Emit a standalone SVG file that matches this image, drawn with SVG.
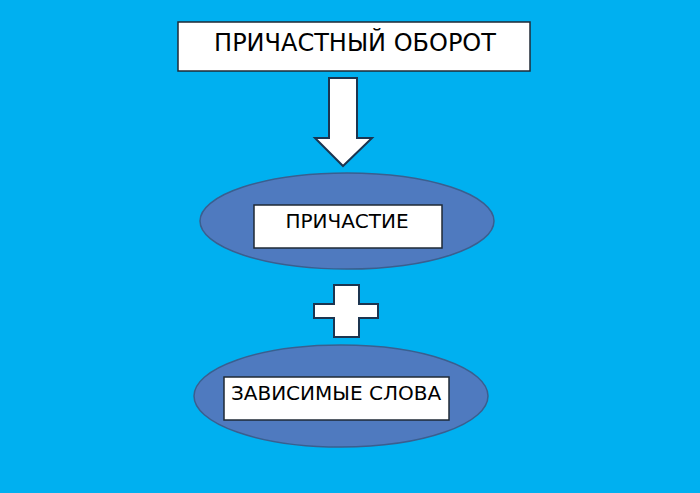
<svg xmlns="http://www.w3.org/2000/svg" width="700" height="493" viewBox="0 0 700 493">
<style>
.box{fill:#ffffff;stroke:#1f2a36;stroke-width:1.5}
.oval{fill:#4f7abf;stroke:#3a5f8f;stroke-width:1.5}
.shape{fill:#ffffff;stroke:#1c3550;stroke-width:2;stroke-linejoin:miter}
text{font-family:"DejaVu Sans","Liberation Sans",sans-serif;fill:#000;text-anchor:middle}
</style>
<rect x="0" y="0" width="700" height="493" fill="#00b0f0"/>
<g id="node-oborot">
<rect class="box" x="178" y="22" width="352" height="49"/>
<text x="355" y="51" font-size="24">ПРИЧАСТНЫЙ ОБОРОТ</text>
</g>
<g id="connectors">
<path class="shape" d="M329,78 H357 V138 H372 L343,166 L315,138 H329 Z"/>
<path class="shape" d="M334,285 H359 V304 H378 V318 H359 V337 H334 V318 H314 V304 H334 Z"/>
</g>
<g id="node-prichastie">
<ellipse class="oval" cx="347" cy="221" rx="147" ry="48"/>
<rect class="box" x="254" y="205" width="188" height="43"/>
<text x="347" y="228" font-size="20">ПРИЧАСТИЕ</text>
</g>
<g id="node-zavisimye">
<ellipse class="oval" cx="341" cy="396" rx="147" ry="51"/>
<rect class="box" x="224" y="377" width="225" height="43"/>
<text x="336" y="400" font-size="20">ЗАВИСИМЫЕ СЛОВА</text>
</g>
</svg>
